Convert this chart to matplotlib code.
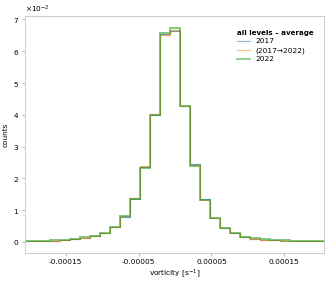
import numpy as np
import matplotlib
matplotlib.use("Agg")
import matplotlib.pyplot as plt
from matplotlib.ticker import ScalarFormatter

# bin edges (31 bins centred on zero)
bin_edges = np.linspace(-2.1265e-4, 2.1265e-4, 32)

counts_2017 = [0.00015, 0.0002, 0.0003, 0.0004, 0.0005, 0.0008, 0.0013, 0.0018,
               0.0029, 0.0047, 0.0080, 0.0135, 0.0235, 0.0400, 0.0655, 0.0663,
               0.0428, 0.0244, 0.0135, 0.0075, 0.0043, 0.0027, 0.0016, 0.0010,
               0.0007, 0.0005, 0.0004, 0.0003, 0.00025, 0.0002, 0.00015]
counts_2017_2022 = [0.00015, 0.0002, 0.0003, 0.0004, 0.0005, 0.0008, 0.0013, 0.0018,
                    0.0029, 0.0047, 0.0081, 0.0138, 0.0239, 0.0404, 0.0650, 0.0668,
                    0.0427, 0.0241, 0.0133, 0.0075, 0.0043, 0.0027, 0.0016, 0.0010,
                    0.0007, 0.0005, 0.0004, 0.0003, 0.00025, 0.0002, 0.00015]
counts_2022 = [0.00018, 0.00025, 0.00035, 0.0005, 0.0007, 0.0010, 0.0015, 0.0019,
               0.0029, 0.0048, 0.0082, 0.0134, 0.0234, 0.0398, 0.0657, 0.0674,
               0.0429, 0.0239, 0.0132, 0.0074, 0.0043, 0.0027, 0.0017, 0.0012,
               0.0008, 0.0006, 0.0005, 0.0004, 0.00032, 0.0002, 0.00015]

xtick_vals = [-0.00015, -0.00005, 0.00005, 0.00015]
xtick_labels = ["-0.00015", "-0.00005", "0.00005", "0.00015"]
ytick_vals = [0, 0.01, 0.02, 0.03, 0.04, 0.05, 0.06, 0.07]

fig = plt.figure(figsize=(3.32, 2.85), dpi=100)
ax = fig.add_axes([0.0753, 0.112, 0.9017, 0.831])

ax.stairs(counts_2017, bin_edges, color="tab:blue", lw=0.8, alpha=0.7, label="2017")
ax.stairs(counts_2017_2022, bin_edges, color="tab:orange", lw=0.8, alpha=0.7,
          label="(2017\u21922022)")
ax.stairs(counts_2022, bin_edges, color="tab:green", lw=1.4, alpha=0.6, label="2022")

ax.set_xlim(-2.06e-4, 2.05e-4)
ax.set_ylim(-0.0035, 0.071)
ax.set_xticks(xtick_vals)
ax.set_xticklabels(xtick_labels)
ax.set_yticks(ytick_vals)
fmt = ScalarFormatter(useMathText=True)
fmt.set_powerlimits((-1, 1))
ax.yaxis.set_major_formatter(fmt)
ax.yaxis.get_offset_text().set_fontsize(5.3)

for s in ax.spines.values():
    s.set_color("#d0d0d0")
    s.set_linewidth(0.8)
ax.tick_params(labelsize=5.3, length=2, width=0.6, color="#aaaaaa", pad=2)

ax.set_xlabel("vorticity [s$^{-1}$]", fontsize=5.3, labelpad=2)
ax.set_ylabel("counts", fontsize=5.3, labelpad=3)

leg = ax.legend(title="all levels \u2013 average", frameon=False, fontsize=5.3,
                title_fontproperties={"weight": "bold", "size": 5.1},
                loc="upper right", bbox_to_anchor=(0.98, 0.965),
                handlelength=1.8, borderaxespad=0.3, labelspacing=0.35)
leg._legend_box.align = "left"
for h in leg.legend_handles:
    h.set_alpha(0.5)

fig.savefig("out.png", dpi=100)
